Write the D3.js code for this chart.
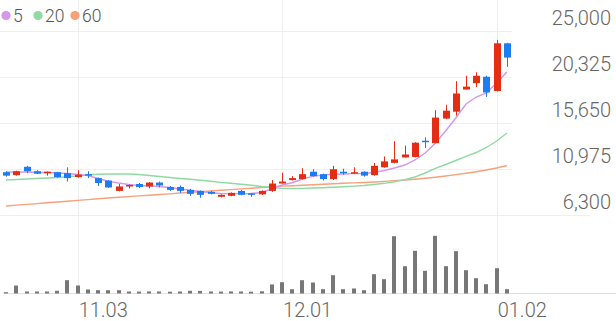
<!DOCTYPE html>
<html>
<head>
<meta charset="utf-8">
<script src="https://cdn.jsdelivr.net/npm/d3@7"></script>
<style>
  body { margin: 0; background: #fff; }
  svg { display: block; font-family: Roboto, "Noto Sans", sans-serif; }
</style>
</head>
<body>
<svg></svg>
<script>
const width = 616;
const height = 321;

// trading days shown
const dates = [
  "10.23","10.24","10.27","10.28","10.29","10.30","10.31",
  "11.03","11.04","11.05","11.06","11.07","11.10","11.11","11.12","11.13","11.14",
  "11.17","11.18","11.19","11.20","11.21","11.24","11.25","11.26","11.27","11.28",
  "12.01","12.02","12.03","12.04","12.05","12.08","12.09","12.10","12.11","12.12",
  "12.15","12.16","12.17","12.18","12.19","12.22","12.23","12.24","12.26","12.29","12.30",
  "01.02","01.05"
];
const opens  = [10650,10350,11200,10750,10550,10650,10550,10150,10450,10050,9800,8750,9200,9450,9200,9600,9150,9150,8850,8750,8650,8150,8250,8750,8500,8400,8750,9500,9850,9950,10700,10450,9950,10700,10500,10700,10350,11150,11600,12150,12200,13850,13600,16100,16800,19050,19700,20350,18900,23750];
const highs  = [10750,10800,11300,10850,10720,10700,11150,10850,10750,10100,9850,9450,9400,9550,9650,9700,9250,9300,8950,8800,8750,8400,8600,8850,8550,8800,9850,10600,10250,11050,10950,10500,11300,11000,11150,10750,11600,12250,13800,13350,13700,14200,16950,17500,19900,20450,20800,20450,24100,23800];
const lows   = [10200,10300,10550,10450,10300,10100,9700,10100,10050,9250,9050,8700,9000,9050,9000,9100,8750,8550,8250,8050,8400,8100,8200,8300,8150,8350,8650,9500,9800,9900,10200,9800,9850,10400,10500,10200,10300,11100,11550,12150,12150,13100,13600,16050,16400,19050,19300,18300,18850,21350];
const closes = [10300,10750,10750,10500,10700,10150,10050,10400,10300,9550,9100,9200,9350,9150,9600,9300,8850,8750,8450,8350,8450,8350,8550,8350,8350,8750,9500,9700,10050,10450,10250,9950,10950,10550,10650,10300,11300,11750,11950,12450,13650,13700,16200,16900,18650,19350,20450,18750,23750,22300];
const volumes = [130000,800000,200000,200000,200000,270000,1330000,800000,400000,330000,330000,330000,200000,190000,210000,200000,180000,200000,270000,260000,200000,190000,210000,200000,180000,220000,900000,1130000,430000,1330000,1100000,430000,1830000,430000,500000,330000,1930000,1430000,5730000,2730000,4270000,2270000,5770000,2730000,4230000,2330000,1530000,930000,2530000,430000];

const ma5  = [10670,10670,10670,10620,10620,10570,10520,10420,10310,10010,9730,9550,9400,9300,9250,9200,9100,8940,8810,8690,8560,8490,8470,8470,8490,8590,8940,9350,9580,9960,10230,10370,10440,10470,10500,10520,10620,10820,11080,11380,11890,12600,13590,14840,16160,17580,18290,18700,19720,20830];
const ma20 = [9860,9910,9960,10010,10060,10110,10180,10260,10370,10440,10470,10470,10470,10420,10310,10210,10110,10010,9930,9830,9730,9620,9520,9420,9330,9200,9100,9010,8990,9010,9040,9070,9120,9170,9230,9300,9400,9520,9680,9890,10160,10570,11030,11430,11840,12250,12650,13160,13820,14630];
const ma60 = [7210,7300,7380,7460,7540,7620,7700,7790,7860,7950,8030,8100,8170,8240,8310,8390,8450,8530,8600,8670,8740,8810,8880,8950,9020,9090,9170,9230,9280,9330,9380,9430,9480,9520,9560,9600,9650,9720,9790,9860,9940,10030,10140,10260,10400,10540,10700,10870,11080,11330];

const priceTicks = [6300, 10975, 15650, 20325, 25000];
const dateTicks = ["11.03", "12.01", "01.02"];
const maNames = ["5", "20", "60"];
const maColors = ["#d596ee", "#8fd9a3", "#f7a07a"];

const upColor = "#e52d13";
const downColor = "#1c7cf2";

const svg = d3.select("svg")
    .attr("width", width)
    .attr("height", height);

const x = d3.scaleBand()
    .domain(dates)
    .range([1, 512]);

const y = d3.scaleLinear()
    .domain([6300, 25000])
    .range([215, 31]);

const yVol = d3.scaleLinear()
    .domain([0, 6000000])
    .range([293.5, 233.5]);

const cx = d => x(d) + x.bandwidth() / 2;

// grid
svg.append("g").selectAll("line")
    .data(priceTicks)
    .enter().append("line")
    .attr("x1", 0)
    .attr("x2", d => d === 6300 ? 590 : 512)
    .attr("y1", d => Math.round(y(d)) + 0.5)
    .attr("y2", d => Math.round(y(d)) + 0.5)
    .attr("stroke", "#efefef");

svg.append("g").selectAll("line")
    .data(dateTicks)
    .enter().append("line")
    .attr("x1", d => Math.round(cx(d)) + 0.5)
    .attr("x2", d => Math.round(cx(d)) + 0.5)
    .attr("y1", 0)
    .attr("y2", 293)
    .attr("stroke", "#efefef");

// volume baseline
svg.append("line")
    .attr("x1", 3).attr("x2", width)
    .attr("y1", 293.5).attr("y2", 293.5)
    .attr("stroke", "#e0e0e0");

// moving averages
const maSeries = [ma5, ma20, ma60];
const line = d3.line()
    .x((d, i) => cx(dates[i]))
    .y(d => y(d));

maSeries.slice().reverse().forEach((s, k) => {
    const idx = maSeries.length - 1 - k;
    svg.append("path")
        .attr("d", line(s))
        .attr("fill", "none")
        .attr("stroke", maColors[idx])
        .attr("stroke-width", 1.4);
});

// candles
const candles = dates.map((d, i) => ({
    date: d, open: opens[i], high: highs[i], low: lows[i], close: closes[i], volume: volumes[i]
}));

const candle = svg.append("g").selectAll("g")
    .data(candles)
    .enter().append("g")
    .attr("fill", d => d.close >= d.open ? upColor : downColor)
    .attr("stroke", d => d.close >= d.open ? upColor : downColor);

candle.append("line")
    .attr("x1", d => Math.round(cx(d.date)) + 0.5)
    .attr("x2", d => Math.round(cx(d.date)) + 0.5)
    .attr("y1", d => y(d.high))
    .attr("y2", d => y(d.low))
    .attr("stroke-width", 1);

candle.append("rect")
    .attr("x", d => Math.round(cx(d.date)) - 3)
    .attr("width", 7)
    .attr("y", d => y(Math.max(d.open, d.close)))
    .attr("height", d => Math.max(1.5, Math.abs(y(d.open) - y(d.close))))
    .attr("stroke", "none");

// volume
svg.append("g").selectAll("rect")
    .data(candles)
    .enter().append("rect")
    .attr("x", d => Math.round(cx(d.date)) - 2)
    .attr("width", 4)
    .attr("y", d => yVol(d.volume))
    .attr("height", d => yVol(0) - yVol(d.volume))
    .attr("fill", "#777");

// price axis on the right
const yAxis = svg.append("g")
    .attr("transform", "translate(611,0)")
    .call(d3.axisLeft(y).tickValues(priceTicks).tickSize(0).tickPadding(0).tickFormat(d3.format(",")));
yAxis.select(".domain").remove();
yAxis.selectAll("text")
    .attr("dy", 0)
    .attr("y", -7)
    .attr("fill", "#666")
    .style("font-family", "Roboto, sans-serif")
    .style("font-weight", 300)
    .style("font-size", "20px");

// date axis
const xAxis = svg.append("g")
    .attr("transform", "translate(0,316.5)")
    .call(d3.axisBottom(x).tickValues(dateTicks).tickSize(0).tickPadding(0));
xAxis.select(".domain").remove();
xAxis.selectAll("text")
    .attr("dy", 0)
    .attr("y", 0)
    .attr("x", 1)
    .attr("text-anchor", "start")
    .attr("fill", "#666")
    .style("font-family", "Roboto, sans-serif")
    .style("font-weight", 300)
    .style("font-size", "20px");

// legend
const legendX = [6, 38, 75];
const legend = svg.append("g").selectAll("g")
    .data(maNames)
    .enter().append("g")
    .attr("transform", (d, i) => `translate(${legendX[i]},15.5)`);

legend.append("circle")
    .attr("r", 4.6)
    .attr("fill", (d, i) => maColors[i]);

legend.append("text")
    .attr("x", 7)
    .attr("y", 6.3)
    .attr("fill", "#555")
    .style("font-size", "17.5px")
    .style("font-weight", 300)
    .text(d => d);
</script>
</body>
</html>
